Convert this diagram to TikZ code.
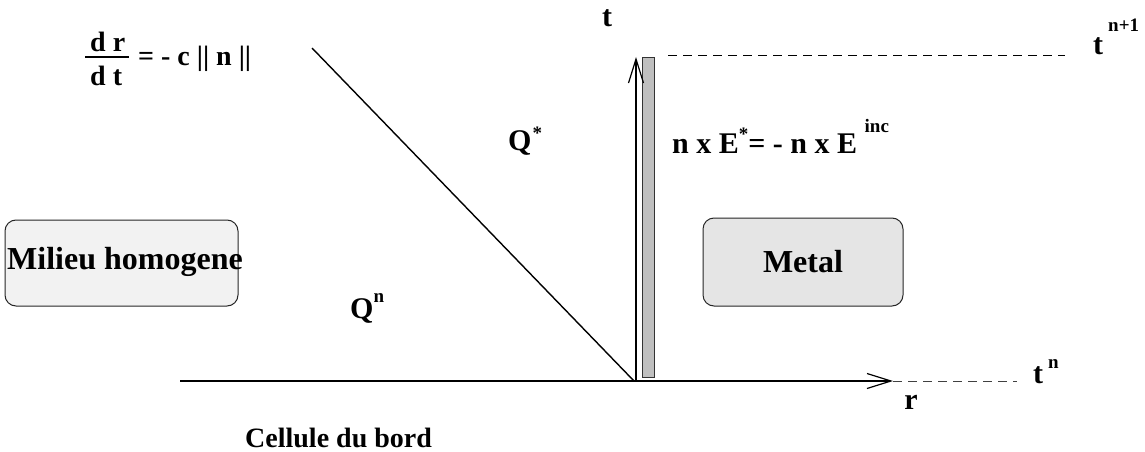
\documentclass[tikz,border=0pt]{standalone}
\usepackage{fontspec}
\setmainfont{Liberation Serif}
\usetikzlibrary{arrows.meta}
\newcommand\supx[2]{\raisebox{#1}{\fontsize{19}{19}\selectfont #2}}
\tikzset{
  lbl/.style={inner sep=0pt, font=\bfseries\fontsize{30}{32}\selectfont},
  small/.style={inner sep=0pt, font=\bfseries\fontsize{28}{30}\selectfont},
  big/.style={inner sep=0pt, font=\bfseries\fontsize{32}{34}\selectfont},
  region/.style={draw=black!85, line width=1pt, rounded corners=11pt, inner sep=0pt},
  axis/.style={line width=1.4pt, -{Straight Barb[length=24pt,width=15pt,line width=1.2pt]}},
  guide/.style={dash pattern=on 9pt off 6pt, line width=0.8pt},
  thin/.style={line width=1.4pt},
  wall/.style={draw=black!80, fill=black!25, line width=0.9pt, inner sep=0pt}
}
\begin{document}
\begin{tikzpicture}[x=1pt,y=-1pt]
\useasboundingbox (0,0) rectangle (1145,452);
% regions
\node[region, fill=black!5, minimum width=233pt, minimum height=86pt] (milieubox) at (121.5,263) {};
\node[big] (milieu) at (125,262) {Milieu homogene};
\node[region, fill=black!10, minimum width=200pt, minimum height=88pt, big] (metal) at (803,262) {Metal};
% wall
\node[wall, minimum width=12pt, minimum height=320pt] (bar) at (648,217) {};
% axes
\coordinate (o) at (636,381);
\coordinate (xstart) at (180,381);
\coordinate (xend) at (893,381);
\coordinate (yend) at (636,57);
\draw[axis] (xstart) -- (xend);
\draw[axis] (o) -- (yend);
% characteristic
\coordinate (dtop) at (312,48);
\coordinate (dbot) at (634,381);
\draw[thin] (dtop) -- (dbot);
% dashed time levels
\coordinate (d1a) at (668,55);
\coordinate (d1b) at (1065,55);
\draw[guide] (d1a) -- (d1b);
\coordinate (d2b) at (1017,381);
\draw[guide, draw=black!75] (xend) -- (d2b);
% labels
\node[lbl, anchor=base] (tlab) at (607,27) {t};
\node[lbl, anchor=base west] (tnp) at (1093,55) {t\,\supx{23pt}{n+1}};
\node[lbl, anchor=base west] (tn) at (1033,383) {t\,\supx{15pt}{n}};
\node[lbl, anchor=base] (rlab) at (911,409) {r};
\node[lbl, anchor=base west] (qstar) at (508,150) {Q\kern1pt\supx{11pt}{*}};
\node[lbl, anchor=base west] (qn) at (350,318) {Q\supx{16pt}{n}};
\node[lbl, anchor=base west] (bc) at (672,153) {n x E\supx{13pt}{*}= - n x E \supx{21pt}{inc}};
\node[small, anchor=base west] (cell) at (245,447) {Cellule du bord};
% dr/dt
\node[small, anchor=base west] (num) at (90,52) {d r};
\node[small, anchor=base west] (den) at (90,85) {d t};
\coordinate (fa) at (85,57);
\coordinate (fb) at (129,57);
\draw[line width=1.2pt] (fa) -- (fb);
\node[small, anchor=base west] (rhs) at (138,66) {= - c || n ||};
\end{tikzpicture}
\end{document}
